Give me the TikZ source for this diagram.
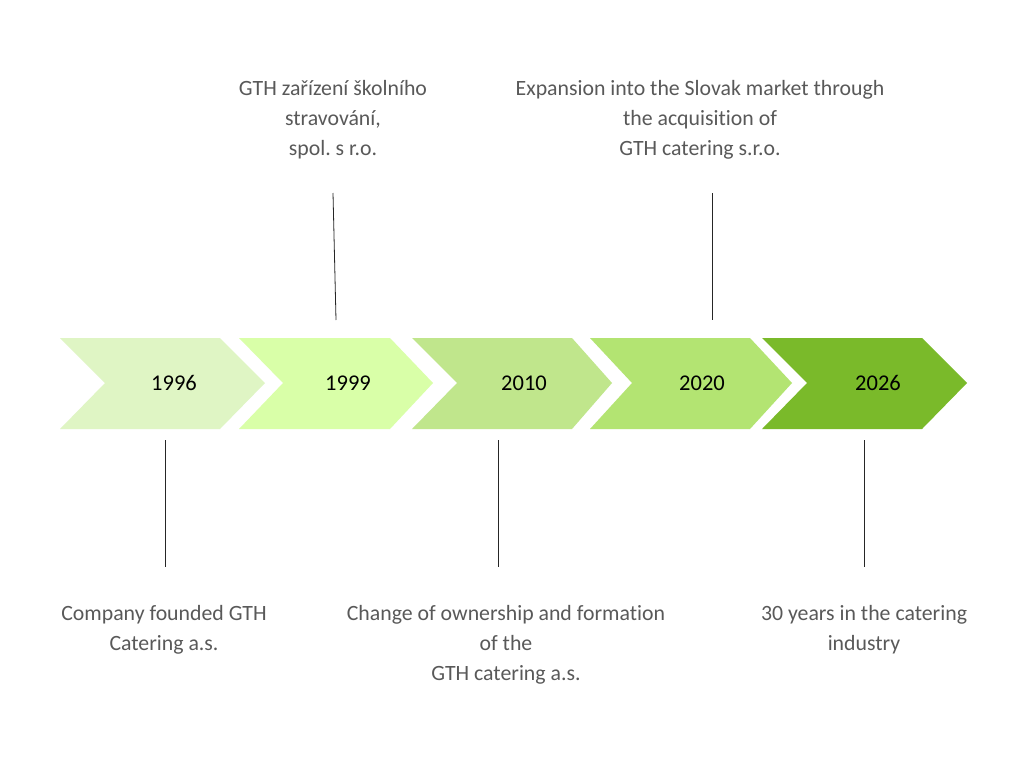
\documentclass[tikz,border=0pt]{standalone}
\usepackage{fontspec}
\setmainfont{Carlito}[Ligatures={NoCommon}]
\frenchspacing
\definecolor{c1}{RGB}{223,245,196}
\definecolor{c2}{RGB}{217,255,168}
\definecolor{c3}{RGB}{192,230,140}
\definecolor{c4}{RGB}{179,228,114}
\definecolor{c5}{RGB}{122,186,42}
\definecolor{lbl}{RGB}{89,89,89}
\begin{document}
\begin{tikzpicture}[x=1pt,y=-1pt,
  year/.style={font=\fontsize{22.5}{26}\selectfont, text=black},
  label/.style={font=\fontsize{21.8}{30}\selectfont, text=lbl, align=center},
  tick/.style={draw=black!85, line width=0.8pt}]
\useasboundingbox (0,0) rectangle (1024,768);
\fill[white] (0,0) rectangle (1024,768);
% chevrons: left, notch, top-right, tip
\fill[c1] (60,338) -- (220,338) -- (265,383) -- (220,429) -- (60,429) -- (105,383) -- cycle;
\fill[c2] (239,338) -- (390,338) -- (433,383) -- (390,429) -- (239,429) -- (283,383) -- cycle;
\fill[c3] (412,338) -- (572,338) -- (612,383) -- (572,429) -- (412,429) -- (457,383) -- cycle;
\fill[c4] (590,338) -- (750,338) -- (792,383) -- (750,429) -- (590,429) -- (632,383) -- cycle;
\fill[c5] (762,338) -- (922,338) -- (967,383) -- (922,429) -- (762,429) -- (807,383) -- cycle;
\node[year] (y1) at (174,383) {1996};
\node[year] (y2) at (348,383) {1999};
\node[year] (y3) at (524,383) {2010};
\node[year] (y4) at (702,383) {2020};
\node[year] (y5) at (878,383) {2026};
% labels
\node[label] (t2) at (333,120) {GTH zařízení školního\\stravování,\\ spol. s r.o.};
\node[label] (t4) at (700,120) {Expansion into the Slovak market through\\the acquisition of\\ GTH catering s.r.o.};
\node[label] (b1) at (164,630) {Company founded GTH\\Catering a.s.};
\node[label] (b3) at (506,645) {Change of ownership and formation\\of the\\ GTH catering a.s.};
\node[label] (b5) at (864,630) {30 years in the catering\\industry};
% connector lines
\coordinate (p2a) at (333,193); \coordinate (p2b) at (336,320);
\coordinate (p4a) at (712,193); \coordinate (p4b) at (712,320);
\coordinate (p1a) at (165,440); \coordinate (p1b) at (165,567);
\coordinate (p3a) at (498,440); \coordinate (p3b) at (498,567);
\coordinate (p5a) at (864,440); \coordinate (p5b) at (864,567);
\draw[tick] (p2a) -- (p2b);
\draw[tick] (p4a) -- (p4b);
\draw[tick] (p1a) -- (p1b);
\draw[tick] (p3a) -- (p3b);
\draw[tick] (p5a) -- (p5b);
\end{tikzpicture}
\end{document}
